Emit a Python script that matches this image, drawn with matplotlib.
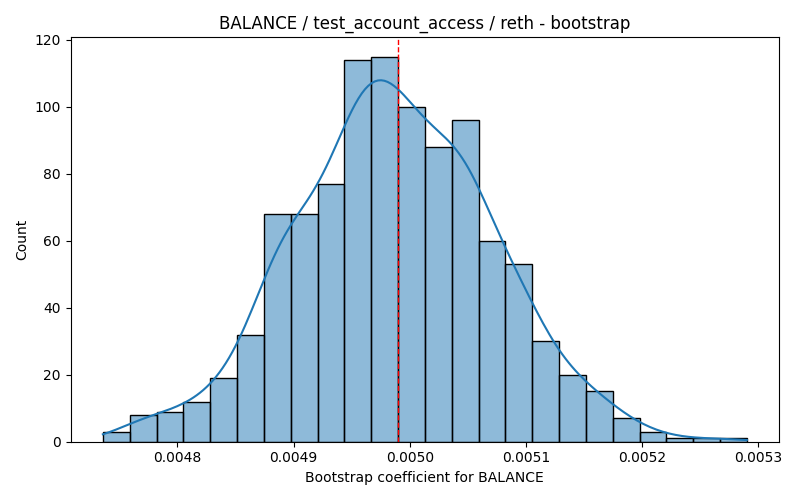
import numpy as np
import pandas as pd
import matplotlib
matplotlib.use("Agg")
import matplotlib.pyplot as plt
import seaborn as sns

# bootstrap histogram (24 bins)
bin_lo = 0.0047359
bin_hi = 0.0052901
counts = [3, 8, 9, 12, 19, 32, 68, 68, 77, 114, 115, 100,
          88, 96, 60, 53, 30, 20, 15, 7, 3, 1, 1, 1]
coef_mean = 0.0049899

edges = np.linspace(bin_lo, bin_hi, len(counts) + 1)
centers = (edges[:-1] + edges[1:]) / 2
df = pd.DataFrame({"coef": centers, "n": counts})

fig, ax = plt.subplots(figsize=(8, 5), dpi=100)
# weighted bin centres give a small effective n, so shrink the bandwidth
sns.histplot(data=df, x="coef", weights="n", bins=edges.tolist(), kde=True,
             edgecolor="black", ax=ax,
             kde_kws={"cut": 3, "clip": (bin_lo, bin_hi), "bw_adjust": 0.42})
ax.axvline(coef_mean, color="red", linestyle="--", linewidth=1)
ax.set_title("BALANCE / test_account_access / reth - bootstrap")
ax.set_xlabel("Bootstrap coefficient for BALANCE")
ax.set_ylabel("Count")
fig.tight_layout()
fig.savefig("out.png")
